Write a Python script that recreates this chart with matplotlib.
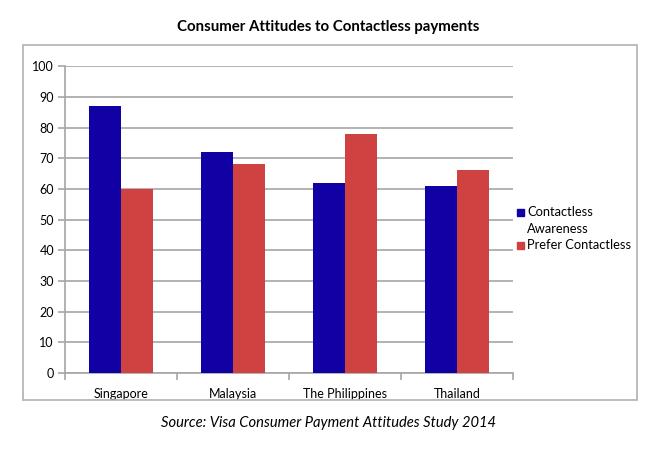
import matplotlib.pyplot as plt
import matplotlib.patches as mpatches
import numpy as np

plt.rcParams['font.family'] = ['Lato', 'DejaVu Sans']

countries = ['Singapore', 'Malaysia', 'The Philippines', 'Thailand']
awareness = [87, 72, 62, 61]
prefer = [60, 68, 78, 66]
series_names = ['Contactless\nAwareness', 'Prefer Contactless']
yticks = [0, 10, 20, 30, 40, 50, 60, 70, 80, 90, 100]

blue = '#1100a3'
red = '#d04242'
grey = '#a6a6a6'

W, H = 657, 450
fig = plt.figure(figsize=(W / 100, H / 100), dpi=100)

# outer chart border
border = mpatches.Rectangle((0.035, 0.111), 0.935, 0.789, transform=fig.transFigure,
                            fill=False, edgecolor='#b0b0b0', linewidth=1.2)
fig.patches.append(border)

ax = fig.add_axes([0.099, 0.171, 0.682, 0.682])

x = np.arange(len(countries))
w = 0.285
ax.bar(x - w / 2, awareness, w, color=blue, zorder=3)
ax.bar(x + w / 2, prefer, w, color=red, zorder=3)

ax.set_xlim(-0.5, len(countries) - 0.5)
ax.set_ylim(0, 100)
ax.set_yticks(yticks)
ax.yaxis.grid(True, color=grey, linewidth=1.2, zorder=0)
ax.set_axisbelow(True)

ax.set_xticks(x)
ax.set_xticklabels(countries, fontsize=9)
ax.set_xticks(np.arange(len(countries) + 1) - 0.5, minor=True)
ax.tick_params(axis='x', which='major', length=0, pad=11)
ax.tick_params(axis='x', which='minor', length=5, color=grey, width=1.2)
ax.tick_params(axis='y', length=5, color=grey, width=1.2, labelsize=9, pad=3)

for s in ['top', 'right']:
    ax.spines[s].set_visible(False)
for s in ['left', 'bottom']:
    ax.spines[s].set_color(grey)
    ax.spines[s].set_linewidth(1.2)

fig.text(0.5, 0.94, 'Consumer Attitudes to Contactless payments', ha='center', va='center',
         fontsize=10.8, fontweight='bold')

# legend drawn by hand so the marker sits on the first line of a wrapped label
leg_rows = [213, 246]
for name, col, yy in zip(series_names, [blue, red], leg_rows):
    sq = mpatches.Rectangle((517 / W, 1 - (yy + 3.5) / H), 7 / W, 7 / H,
                            transform=fig.transFigure, color=col)
    fig.patches.append(sq)
    fig.text(527 / W, 1 - (yy - 7) / H, name, ha='left', va='top', fontsize=9.3,
             linespacing=1.5)

fig.text(0.5, 0.06, 'Source: Visa Consumer Payment Attitudes Study 2014', ha='center',
         va='center', fontsize=10.6, style='italic')

fig.savefig('out.png', dpi=100)
